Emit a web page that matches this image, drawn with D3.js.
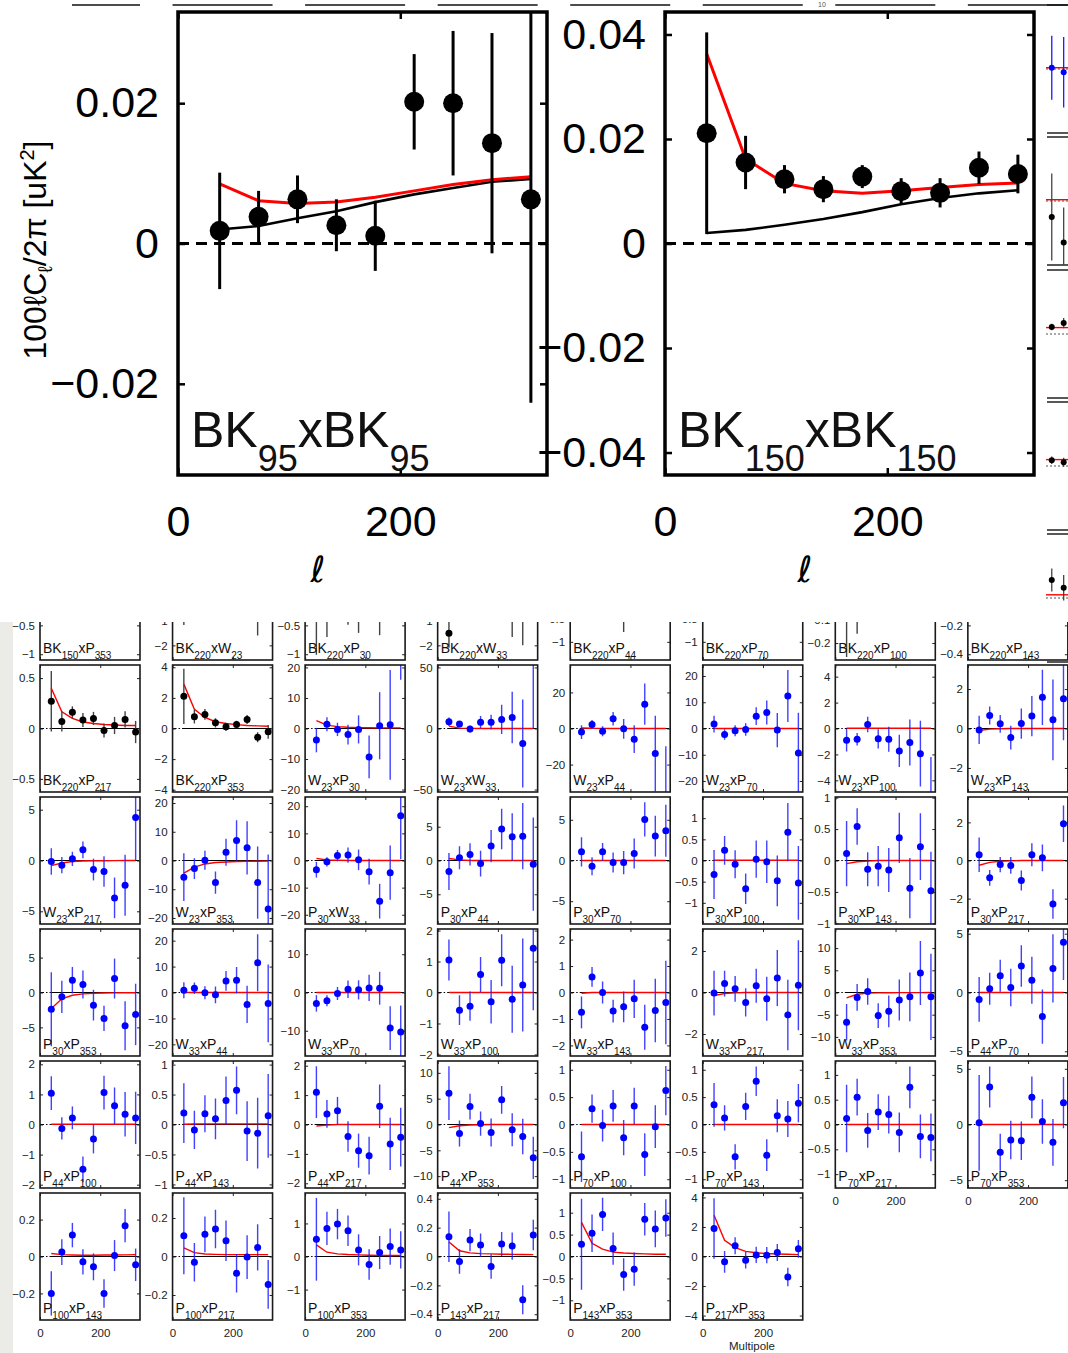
<!DOCTYPE html>
<html><head><meta charset="utf-8">
<script src="https://cdn.jsdelivr.net/npm/d3@7"></script>
<style>
body{margin:0;background:#fff;}
svg{display:block;font-family:"Liberation Sans",Arial,Helvetica,sans-serif;}
</style>
</head><body>
<svg id="c" width="1068" height="1353"></svg>
<script>
// ---------------- DATA ----------------
const ellBins = [37.5, 72.5, 107.5, 142.5, 177.5, 212.5, 247.5, 282.5, 317.5];
const ellDomain = [0, 332];
const ellTicks = [0, 200];

// big panels
const bigNames = [["BK","95","BK","95"],["BK","150","BK","150"]];
const bigYMax = [0.033, 0.0443];
const bigYTicks = [[-0.02,0,0.02],[-0.04,-0.02,0,0.02,0.04]];
const bigValues = [
  [0.0018,0.0038,0.0063,0.0026,0.0011,0.0202,0.0200,0.0143,0.0063],
  [0.0211,0.0155,0.0123,0.0104,0.0128,0.0100,0.0097,0.0145,0.0133]];
const bigErrors = [
  [0.0083,0.0037,0.0034,0.0037,0.0050,0.0068,0.0103,0.0157,0.0290],
  [0.0193,0.0051,0.0027,0.0025,0.0022,0.0025,0.0028,0.0031,0.0037]];
const bigRed = [
  [0.0085,0.0061,0.0057,0.0059,0.0066,0.0075,0.0084,0.0091,0.0095],
  [0.0363,0.0162,0.0115,0.0101,0.0096,0.0101,0.0107,0.0113,0.0116]];
const bigBlack = [
  [0.0020,0.0025,0.0036,0.0046,0.0059,0.0070,0.0079,0.0088,0.0092],
  [0.0020,0.0026,0.0036,0.0047,0.0060,0.0075,0.0087,0.0096,0.0102]];

// small grid panels (row-major, 8 per row)
const gridNames = [
  ["BK","150","P","353"],["BK","220","W","23"],["BK","220","P","30"],["BK","220","W","33"],["BK","220","P","44"],["BK","220","P","70"],["BK","220","P","100"],["BK","220","P","143"],
  ["BK","220","P","217"],["BK","220","P","353"],["W","23","P","30"],["W","23","W","33"],["W","23","P","44"],["W","23","P","70"],["W","23","P","100"],["W","23","P","143"],
  ["W","23","P","217"],["W","23","P","353"],["P","30","W","33"],["P","30","P","44"],["P","30","P","70"],["P","30","P","100"],["P","30","P","143"],["P","30","P","217"],
  ["P","30","P","353"],["W","33","P","44"],["W","33","P","70"],["W","33","P","100"],["W","33","P","143"],["W","33","P","217"],["W","33","P","353"],["P","44","P","70"],
  ["P","44","P","100"],["P","44","P","143"],["P","44","P","217"],["P","44","P","353"],["P","70","P","100"],["P","70","P","143"],["P","70","P","217"],["P","70","P","353"],
  ["P","100","P","143"],["P","100","P","217"],["P","100","P","353"],["P","143","P","217"],["P","143","P","353"],["P","217","P","353"]];

const gridYMax = [
  1.1, 2.6, 1.1, 2.6, 1.4, 1.4, 0.273, 0.44,
  0.63, 4.15, 20.8, 52, 35.2, 24.2, 4.9, 3.22,
  6.25, 22.1, 23.4, 9.4, 7.8, 1.5, 1.01, 3.33,
  9.1, 24.5, 16.6, 2.05, 2.4, 3.06, 14.3, 5.4,
  2.11, 1.06, 2.16, 12.3, 1.16, 1.16, 1.28, 5.7,
  0.344, 0.33, 1.92, 0.44, 1.45, 4.3];

const gridYTicks = [
  [-1,-0.5,0,0.5,1],[-2,-1,0,1,2],[-1,-0.5,0,0.5,1],[-2,-1,0,1,2],[-1,-0.5,0,0.5,1],[-1,-0.5,0,0.5,1],[-0.2,-0.1,0,0.1,0.2],[-0.4,-0.2,0,0.2,0.4],
  [-0.5,0,0.5],[-4,-2,0,2,4],[-20,-10,0,10,20],[-50,0,50],[-20,0,20],[-20,-10,0,10,20],[-4,-2,0,2,4],[-2,0,2],
  [-5,0,5],[-20,-10,0,10,20],[-20,-10,0,10,20],[-5,0,5],[-5,0,5],[-1,-0.5,0,0.5,1],[-1,-0.5,0,0.5,1],[-2,0,2],
  [-5,0,5],[-20,-10,0,10,20],[-10,0,10],[-2,-1,0,1,2],[-2,-1,0,1,2],[-2,0,2],[-10,-5,0,5,10],[-5,0,5],
  [-2,-1,0,1,2],[-1,-0.5,0,0.5,1],[-2,-1,0,1,2],[-10,-5,0,5,10],[-1,-0.5,0,0.5,1],[-1,-0.5,0,0.5,1],[-1,-0.5,0,0.5,1],[-5,0,5],
  [-0.2,0,0.2],[-0.2,0,0.2],[-1,0,1],[-0.4,-0.2,0,0.2,0.4],[-1,-0.5,0,0.5,1],[-4,-2,0,2,4]];

const gridValues = [
  [0.1,0.05,0.05,0.02,0.03,0,0.05,0.02,0.03],
  [0.5,0.3,0.2,0.1,0.1,0.2,0.3,1.0,0.5],
  [0.3,0.2,0.1,0.15,0.1,0.1,0.2,0.1,0.1],
  [-1.5,0.2,0.1,0.1,0.2,0.3,0.5,0.2,0.3],
  [0.1,0.1,0.1,0.1,0.2,0.1,0.1,0.1,0.1],
  [0.05,0.05,0.05,0.05,0.05,0.05,0.05,0.05,0.05],
  [0.05,0.03,0.01,0.01,0.01,0.01,0.01,0.01,0.01],
  [0.02,0.02,0.02,0.02,0.02,0.02,0.02,0.02,0.02],
  [0.27,0.07,0.16,0.085,0.10,-0.02,0.03,0.09,-0.035],
  [2.1,0.77,0.92,0.37,0.11,0.26,0.59,-0.57,-0.22],
  [-3.8,1.4,-0.3,-2.0,-0.3,-9.3,0.9,1.2,30],
  [5.5,3.6,-0.5,5.2,5.2,7.4,9,-12.3,60],
  [-2.0,2.2,-1.5,5.4,-0.2,-5.9,13.5,-13.9,-40],
  [1.7,-2.3,-0.9,-0.4,4.7,6.1,-0.6,12.4,-9.3],
  [-0.9,-0.83,0.31,-0.8,-0.83,-1.73,-1.08,-1.94,-5.2],
  [-0.07,0.66,0.24,-0.46,0.25,0.63,1.58,0.44,1.51],
  [-0.1,-0.46,0.16,1.05,-0.89,-1.09,-3.68,-2.43,4.24],
  [-5.8,-2.8,0.1,-7.7,2.9,7.0,4.4,-7.7,-16.9],
  [-3.4,-0.5,1.8,2.0,0.25,-4.1,-15,-4.5,16.5],
  [-1.63,0.4,0.9,-0.45,2.13,4.65,3.5,3.6,-0.55],
  [1.07,-0.7,1.07,-0.25,-0.25,0.86,5.04,3.0,3.65],
  [-0.33,0.24,-0.09,-0.67,0.03,-0.03,-0.48,0.67,-0.53],
  [0.11,0.54,-0.14,-0.09,-0.15,0.36,-0.44,0.22,-0.48],
  [0.3,-0.91,-0.21,-0.26,-1.05,0.3,0.14,-2.28,1.93],
  [-2.4,-0.62,1.76,1.14,-1.81,-3.71,2.0,-4.76,-3.14],
  [0.9,1.66,-0.13,-0.9,4.46,4.7,-4.6,11.5,-4.2],
  [-2.85,-2.15,-0.26,0.86,0.69,1.2,1.12,-9.3,-10.3],
  [1.05,-0.57,-0.44,0.58,-0.3,1.04,-0.22,0.24,1.43],
  [-0.75,0.59,0,-0.7,-0.54,-0.24,-1.31,-0.68,-0.38],
  [-0.03,0.43,0.18,-0.48,0.33,-0.3,0.7,-1.08,0.35],
  [-6.7,-1.1,0.22,-5.2,-4.25,-1.7,-0.97,4.4,-0.97],
  [-0.59,0.31,1.43,0.42,2.25,1.04,-2.05,2.05,4.27],
  [1.04,-0.13,0.22,-1.49,-0.48,1.06,0.62,0.34,0.22],
  [0.19,-0.09,0.18,0.095,0.4,0.57,-0.11,-0.145,0.145],
  [1.1,0.36,0.47,-0.41,-0.89,-1.06,0.62,-0.66,-0.43],
  [6.06,-1.74,3.48,0.19,-1.55,4.77,-1.03,-2.32,-6.45],
  [-0.59,0.29,-0.02,0.34,-0.24,0.34,-0.55,-0.04,0.62],
  [0.36,0.12,-0.59,0.33,0.79,-0.56,0.16,0.1,0.39],
  [0.12,0.55,-0.12,0.25,0.2,-0.16,0.75,-0.24,-0.26],
  [0.15,3.37,-2.5,-1.39,-1.45,2.44,0.27,-1.6,1.96],
  [-0.2,0.024,0.116,-0.029,-0.056,-0.2,0.005,0.167,-0.045],
  [0.108,-0.03,0.115,0.143,0.082,-0.087,-0.003,0.047,-0.145],
  [0.52,0.85,0.98,0.78,0.2,-0.24,0.12,0.3,0.2],
  [0.137,-0.035,0.114,0.079,-0.07,0.086,0.072,-0.3,0.149],
  [0.28,0.53,0.96,0.18,-0.41,-0.29,0.85,0.63,0.88],
  [1.89,-0.36,0.73,-0.25,0.11,0.09,0.27,-1.39,0.52]];

const gridErrors = [
  [0.3,0.2,0.15,0.15,0.15,0.15,0.2,0.2,0.25],
  [1.67,0.8,0.6,0.6,0.6,0.7,0.9,2.6,1.2],
  [1.31,0.9,0.3,0.64,0.73,0.3,0.87,0.3,0.3],
  [0.6,0.5,0.5,0.6,0.6,0.8,2.16,2.2,1.0],
  [0.3,0.3,0.3,0.3,0.98,0.3,0.3,0.3,0.3],
  [0.3,0.3,0.3,0.3,0.3,0.3,0.3,0.3,0.3],
  [0.31,0.19,0.05,0.05,0.05,0.05,0.05,0.05,0.05],
  [0.1,0.1,0.1,0.1,0.1,0.1,0.1,0.1,0.1],
  [0.30,0.10,0.06,0.07,0.065,0.07,0.085,0.08,0.11],
  [1.8,0.45,0.35,0.3,0.27,0.25,0.3,0.33,0.45],
  [4,2.3,2.2,3.2,4.6,7,11,18,14],
  [3.5,2.5,2.7,5,6,12,21,36,60],
  [3.8,2.5,2.8,3.8,5.5,7.7,11.4,21,30.2],
  [3.2,2,2.1,2.4,3.4,4.6,6.5,9.9,15.3],
  [0.88,0.48,0.6,0.75,0.97,1.25,1.77,2.54,3.0],
  [0.72,0.46,0.45,0.6,0.77,1.02,1.4,2.05,2.1],
  [1.3,0.8,0.7,0.82,1.07,1.5,2.0,3.0,4.2],
  [8.3,3.6,3.3,3.9,4.7,7,9.3,12.6,19],
  [2.9,1.7,2.1,2.8,3.8,4.7,6.4,10,16],
  [2.75,1.7,1.65,1.9,2.4,3.0,3.5,4.9,6.9],
  [1.8,1.1,1.07,1.23,1.43,1.85,2.1,2.5,3.2],
  [0.58,0.34,0.33,0.36,0.44,0.5,0.6,0.69,0.87],
  [0.52,0.29,0.27,0.32,0.35,0.4,0.48,0.53,0.62],
  [0.9,0.41,0.4,0.44,0.52,0.6,0.7,0.77,0.96],
  [5.3,2.3,1.9,2.0,2.2,1.8,2.86,3.5,4.4],
  [3.1,2.2,2.5,3.2,3.8,5.1,7.2,11,15],
  [2.15,1.42,1.7,2.3,2.5,3.45,4.3,5.7,6.9],
  [0.66,0.48,0.47,0.57,0.7,0.84,1.08,1.5,2.0],
  [0.6,0.37,0.42,0.43,0.58,0.72,0.85,1.2,1.58],
  [1.08,0.62,0.62,0.68,0.82,1.06,1.35,1.7,2.17],
  [4.1,3.0,3.0,2.8,3.6,4.6,5.5,7.2,9.7],
  [1.9,1.36,1.36,1.59,1.76,2.0,2.3,2.9,3.2],
  [0.56,0.37,0.38,0.43,0.48,0.56,0.61,0.74,0.87],
  [0.5,0.32,0.31,0.34,0.4,0.4,0.5,0.59,0.7],
  [0.88,0.47,0.47,0.52,0.58,0.64,0.74,0.89,1.0],
  [5.2,2.5,2.5,2.35,2.7,2.7,3.2,3.45,4.1],
  [0.46,0.26,0.29,0.29,0.32,0.33,0.39,0.39,0.45],
  [0.4,0.23,0.23,0.25,0.27,0.29,0.3,0.33,0.35],
  [0.68,0.37,0.35,0.36,0.38,0.4,0.42,0.44,0.48],
  [4.3,1.84,1.66,1.73,1.73,1.87,2.0,2.1,2.3],
  [0.12,0.07,0.066,0.068,0.073,0.077,0.084,0.09,0.088],
  [0.2,0.1,0.093,0.1,0.105,0.1,0.114,0.12,0.127],
  [1.25,0.5,0.46,0.46,0.47,0.46,0.5,0.55,0.56],
  [0.175,0.085,0.077,0.08,0.085,0.084,0.094,0.1,0.105],
  [1.04,0.43,0.38,0.37,0.37,0.38,0.37,0.42,0.43],
  [2.05,0.74,0.57,0.57,0.55,0.55,0.57,0.62,0.6]];

const gridRed = [
  [0.05,0.02,0.01,0,0,0,0,0,0],[0.1,0.05,0.02,0,0,0,0,0,0],[0.05,0.02,0.01,0,0,0,0,0,0],[0.1,0.05,0.02,0,0,0,0,0,0],
  [0.05,0.02,0.01,0,0,0,0,0,0],[0.05,0.02,0.01,0,0,0,0,0,0],[0.01,0.005,0,0,0,0,0,0,0],[0.02,0.01,0,0,0,0,0,0,0],
  [0.40,0.165,0.10,0.065,0.05,0.04,0.035,0.03,0.03],
  [2.9,1.25,0.72,0.44,0.33,0.25,0.2,0.17,0.15],
  [2.6,1.1,0.6,0.4,0.3,0.25,0.2,0.2,0.2],
  [1.9,0.3,0.1,0.05,0.02,0,0,0,0],
  [0.3,0.1,0.05,0,0,0,0,0,0],
  [0,0,0,0,0,0,0,0,0],
  [0.02,0.02,0.02,0.02,0.02,0.02,0.02,0.02,0.02],
  [-0.1,-0.03,-0.01,0,0,0,0,0,0],
  [-0.5,-0.25,-0.1,-0.05,-0.03,-0.02,-0.01,0,0],
  [-4.4,-2.3,-1.2,-0.7,-0.5,-0.35,-0.3,-0.25,-0.2],
  [0.8,0.2,0.1,0,0,0,0,0,0],
  [0.3,0.1,0,0,0,0,0,0,0],
  [0,0,0,0,0,0,0,0,0],
  [0.005,0.005,0.005,0.005,0.005,0.005,0.005,0.005,0.005],
  [-0.05,-0.02,-0.01,0,0,0,0,0,0],
  [-0.25,-0.1,-0.04,-0.02,0,0,0,0,0],
  [-2.3,-0.9,-0.4,-0.2,-0.12,-0.08,-0.05,-0.04,-0.03],
  [0,0,0,0,0,0,0,0,0],
  [0,0,0,0,0,0,0,0,0],
  [0,0,0,0,0,0,0,0,0],
  [-0.03,0,0,0,0,0,0,0,0],
  [-0.15,-0.05,-0.02,0,0,0,0,0,0],
  [-1.2,-0.4,-0.15,-0.08,-0.05,-0.03,-0.02,-0.02,-0.01],
  [0,0,0,0,0,0,0,0,0],
  [0.01,0.01,0.01,0.01,0.01,0.01,0.01,0.01,0.01],
  [0.005,0.008,0.01,0.01,0.01,0.01,0.01,0.01,0.01],
  [-0.05,-0.02,0,0,0,0,0,0,0],
  [-0.6,-0.25,-0.1,-0.05,0,0,0,0,0],
  [0,0,0,0,0,0,0,0,0],
  [0,0,0,0,0,0,0,0,0],
  [0,0,0,0,0,0,0,0,0],
  [0,0,0,0,0,0,0,0,0],
  [0.016,0.01,0.008,0.007,0.007,0.008,0.008,0.009,0.01],
  [0.045,0.02,0.013,0.011,0.01,0.01,0.01,0.01,0.01],
  [0.35,0.13,0.08,0.06,0.05,0.04,0.035,0.03,0.03],
  [0.1,0.04,0.025,0.02,0.018,0.016,0.015,0.014,0.013],
  [0.78,0.3,0.17,0.1,0.08,0.07,0.06,0.05,0.05],
  [2.8,1.1,0.6,0.35,0.25,0.2,0.17,0.15,0.13]];

const gridBlackModel = [0,0,0,0,0,0,0,0,0];

// right-edge strip (partially visible neighbouring panels)
const stripValues = [[0.02,-0.05],[-0.25,-0.65],[0.11,0.17],[0.09,0.06],[0.28,0.16]];
const stripErrors = [[0.5,0.55],[0.68,0.55],[0.05,0.08],[0.06,0.07],[0.18,0.2]];
const stripRed = [0.02,0.02,0.1,0.1,0.05];
const stripKind = ["blue","bk","bk","bk","bk"];

// ---------------- DRAWING ----------------
const svg = d3.select('#c');
const defs = svg.append('defs');
const fmt = d => (d < 0 ? '\u2212' : '') + String(Math.abs(d));
const isBK = parts => parts[0] === 'BK';

function styleAxis(g, fs, color, sw) {
  g.attr('font-family', null).attr('font-size', fs);
  g.select('.domain').remove();
  g.selectAll('.tick line').attr('stroke', color).attr('stroke-width', sw);
  g.selectAll('.tick text').attr('fill', color);
}

function addLabel(g, parts, x, y, fs, subfs, subdy) {
  const t = g.append('text').attr('x', x).attr('y', y).attr('font-size', fs).attr('fill', '#111');
  t.append('tspan').text(parts[0]);
  t.append('tspan').attr('font-size', subfs).attr('dy', subdy).text(parts[1]);
  t.append('tspan').attr('dy', -subdy).text('x' + parts[2]);
  t.append('tspan').attr('font-size', subfs).attr('dy', subdy).text(parts[3]);
}

// --- top lines (cropped panels above)
for (let c = 0; c < 8; c++) {
  const l = 40 + c * 132.55;
  svg.append('line').attr('x1', Math.max(l, 72)).attr('x2', l + 100).attr('y1', 5).attr('y2', 5)
    .attr('stroke', '#111').attr('stroke-width', 1.3);
}
svg.append('text').attr('x', 818).attr('y', 7).attr('font-size', 7).attr('fill', '#555').text('10');

// --- big panels
const bigLeft = [178, 665], bigW = 369, bigTop = 12, bigH = 463;
function bigPanel(k) {
  const x0 = bigLeft[k], x1 = x0 + bigW, y0 = bigTop, y1 = bigTop + bigH;
  const x = d3.scaleLinear().domain(ellDomain).range([x0, x1]);
  const y = d3.scaleLinear().domain([-bigYMax[k], bigYMax[k]]).range([y1, y0]);
  const id = 'bclip' + k;
  defs.append('clipPath').attr('id', id).append('rect').attr('x', x0).attr('y', y0).attr('width', bigW).attr('height', bigH);
  const g = svg.append('g');
  const inner = g.append('g').attr('clip-path', `url(#${id})`);
  inner.append('line').attr('x1', x0).attr('x2', x1).attr('y1', y(0)).attr('y2', y(0))
    .attr('stroke', '#000').attr('stroke-width', 3).attr('stroke-dasharray', '11,7');
  const line = d3.line().x((d, i) => x(ellBins[i])).y(d => y(d));
  inner.append('path').attr('d', line(bigBlack[k])).attr('fill', 'none').attr('stroke', '#000').attr('stroke-width', 2.6);
  inner.append('path').attr('d', line(bigRed[k])).attr('fill', 'none').attr('stroke', '#f00').attr('stroke-width', 3);
  inner.selectAll('line.err').data(bigValues[k]).join('line').attr('class', 'err')
    .attr('x1', (d, i) => x(ellBins[i])).attr('x2', (d, i) => x(ellBins[i]))
    .attr('y1', (d, i) => y(d - bigErrors[k][i])).attr('y2', (d, i) => y(d + bigErrors[k][i]))
    .attr('stroke', '#000').attr('stroke-width', 3);
  inner.selectAll('circle').data(bigValues[k]).join('circle')
    .attr('cx', (d, i) => x(ellBins[i])).attr('cy', d => y(d)).attr('r', 10).attr('fill', '#000');

  const axL = g.append('g').attr('transform', `translate(${x0},0)`)
    .call(d3.axisLeft(y).tickValues(bigYTicks[k]).tickSize(-7).tickPadding(19).tickFormat(fmt));
  styleAxis(axL, 43, '#000', 2.5);
  const axR = g.append('g').attr('transform', `translate(${x1},0)`)
    .call(d3.axisRight(y).tickValues(bigYTicks[k]).tickSize(-7).tickFormat(''));
  styleAxis(axR, 43, '#000', 2.5);
  const axB = g.append('g').attr('transform', `translate(0,${y1})`)
    .call(d3.axisBottom(x).tickValues(ellTicks).tickSize(-7).tickPadding(30).tickFormat(d3.format('d')));
  styleAxis(axB, 43, '#000', 2.5);
  const axT = g.append('g').attr('transform', `translate(0,${y0})`)
    .call(d3.axisTop(x).tickValues(ellTicks).tickSize(-7).tickFormat(''));
  styleAxis(axT, 43, '#000', 2.5);

  g.append('rect').attr('x', x0).attr('y', y0).attr('width', bigW).attr('height', bigH)
    .attr('fill', 'none').attr('stroke', '#000').attr('stroke-width', 3.5);
  addLabel(g, bigNames[k], x0 + 13, y1 - 28, 50, 36, 24);
  g.append('text').attr('x', x(126)).attr('y', 582).attr('text-anchor', 'middle')
    .attr('font-size', 36).attr('font-style', 'italic').attr('font-family', '"DejaVu Sans",sans-serif').text('\u2113');
}
bigPanel(0);
bigPanel(1);

// y-axis title of the top section
const yt = svg.append('text').attr('transform', 'translate(46,250) rotate(-90)')
  .attr('text-anchor', 'middle').attr('font-size', 32).attr('fill', '#000');
yt.append('tspan').text('100\u2113C');
yt.append('tspan').attr('font-size', 20).attr('dy', 6).text('\u2113');
yt.append('tspan').attr('dy', -6).text('/2\u03c0 [uK');
yt.append('tspan').attr('font-size', 20).attr('dy', -12).text('2');
yt.append('tspan').attr('dy', 12).text(']');

// --- right strip
const stripTops = [5, 137, 270, 402, 534], stripH = 128;
const stripG = svg.append('g');
const sx = d3.scaleLinear().domain(ellDomain).range([1039, 1152]);
stripTops.forEach((top, k) => {
  const sy = d3.scaleLinear().domain([-1, 1]).range([top + stripH, top]);
  stripG.append('line').attr('x1', 1047).attr('x2', 1068).attr('y1', top).attr('y2', top).attr('stroke', '#111').attr('stroke-width', 1.4);
  stripG.append('line').attr('x1', 1047).attr('x2', 1068).attr('y1', top + stripH).attr('y2', top + stripH).attr('stroke', '#111').attr('stroke-width', 1.4);
  stripG.append('line').attr('x1', 1046).attr('x2', 1068).attr('y1', sy(0)).attr('y2', sy(0)).attr('stroke', '#555').attr('stroke-width', 1).attr('stroke-dasharray', '2,2');
  stripG.append('line').attr('x1', 1046).attr('x2', 1068).attr('y1', sy(stripRed[k])).attr('y2', sy(stripRed[k])).attr('stroke', '#f00').attr('stroke-width', 1.4);
  const col = stripKind[k] === 'blue' ? '#1a1aff' : '#444';
  const pcol = stripKind[k] === 'blue' ? '#0000ff' : '#000';
  stripValues[k].forEach((v, i) => {
    stripG.append('line').attr('x1', sx(ellBins[i])).attr('x2', sx(ellBins[i]))
      .attr('y1', Math.min(sy(v - stripErrors[k][i]), top + stripH)).attr('y2', Math.max(sy(v + stripErrors[k][i]), top))
      .attr('stroke', col).attr('stroke-width', 1.3);
    stripG.append('circle').attr('cx', sx(ellBins[i])).attr('cy', sy(v)).attr('r', 3).attr('fill', pcol);
  });
});

// --- small grid
defs.append('clipPath').attr('id', 'gridclip').append('rect').attr('x', 0).attr('y', 622).attr('width', 1068).attr('height', 731);
svg.append('rect').attr('x', 0).attr('y', 622).attr('width', 13).attr('height', 731).attr('fill', '#ebebe7');
const gridG = svg.append('g').attr('clip-path', 'url(#gridclip)');
const gridLeft = 40, gridDX = 132.55, gridTop = 533, gridDY = 132, pw = 100, ph = 127;

gridNames.forEach((parts, i) => {
  const r = Math.floor(i / 8), c = i % 8;
  const x0 = gridLeft + c * gridDX, y0 = gridTop + r * gridDY;
  const x = d3.scaleLinear().domain(ellDomain).range([x0, x0 + pw]);
  const M = gridYMax[i];
  const y = d3.scaleLinear().domain([-M, M]).range([y0 + ph, y0]);
  const id = 'gc' + i;
  defs.append('clipPath').attr('id', id).append('rect').attr('x', x0).attr('y', y0).attr('width', pw).attr('height', ph);
  const g = gridG.append('g');
  const inner = g.append('g').attr('clip-path', `url(#${id})`);
  const bk = isBK(parts);
  inner.append('line').attr('x1', x0).attr('x2', x0 + pw).attr('y1', y(0)).attr('y2', y(0))
    .attr('stroke', '#000').attr('stroke-width', 1).attr('stroke-dasharray', '4,2,1.5,2');
  const line = d3.line().x((d, j) => x(ellBins[j])).y(d => y(d));
  inner.append('path').attr('d', line(gridBlackModel)).attr('fill', 'none').attr('stroke', '#000').attr('stroke-width', 1.1);
  inner.append('path').attr('d', line(gridRed[i])).attr('fill', 'none').attr('stroke', '#f00').attr('stroke-width', 1.4);
  const ecol = bk ? '#444' : '#2020ff';
  const pcol = bk ? '#000' : '#0000ff';
  inner.selectAll('line.err').data(gridValues[i]).join('line').attr('class', 'err')
    .attr('x1', (d, j) => x(ellBins[j])).attr('x2', (d, j) => x(ellBins[j]))
    .attr('y1', (d, j) => y(d - gridErrors[i][j])).attr('y2', (d, j) => y(d + gridErrors[i][j]))
    .attr('stroke', ecol).attr('stroke-width', 1.4).attr('stroke-opacity', bk ? 1 : 0.85);
  inner.selectAll('circle').data(gridValues[i]).join('circle')
    .attr('cx', (d, j) => x(ellBins[j])).attr('cy', d => y(d)).attr('r', 3.5).attr('fill', pcol);

  const axL = g.append('g').attr('transform', `translate(${x0},0)`)
    .call(d3.axisLeft(y).tickValues(gridYTicks[i]).tickSize(-3).tickPadding(5).tickFormat(fmt));
  styleAxis(axL, 11.5, '#222', 1);
  const axR = g.append('g').attr('transform', `translate(${x0 + pw},0)`)
    .call(d3.axisRight(y).tickValues(gridYTicks[i]).tickSize(-3).tickFormat(''));
  styleAxis(axR, 11.5, '#222', 1);
  const bottomRow = (i + 8) >= gridNames.length;
  const axB = g.append('g').attr('transform', `translate(0,${y0 + ph})`)
    .call(d3.axisBottom(x).tickValues(ellTicks).tickSize(-3).tickPadding(9).tickFormat(bottomRow ? d3.format('d') : ''));
  styleAxis(axB, 11.5, '#222', 1);
  const axT = g.append('g').attr('transform', `translate(0,${y0})`)
    .call(d3.axisTop(x).tickValues(ellTicks).tickSize(-3).tickFormat(''));
  styleAxis(axT, 11.5, '#222', 1);

  g.append('rect').attr('x', x0).attr('y', y0).attr('width', pw).attr('height', ph)
    .attr('fill', 'none').attr('stroke', '#1a1a1a').attr('stroke-width', 1.6);
  addLabel(g, parts, x0 + 3, y0 + ph - 7, 14, 10, 5.5);
});

svg.append('text').attr('x', 752).attr('y', 1350).attr('text-anchor', 'middle')
  .attr('font-size', 11.5).attr('fill', '#222').text('Multipole');
</script>
</body></html>
